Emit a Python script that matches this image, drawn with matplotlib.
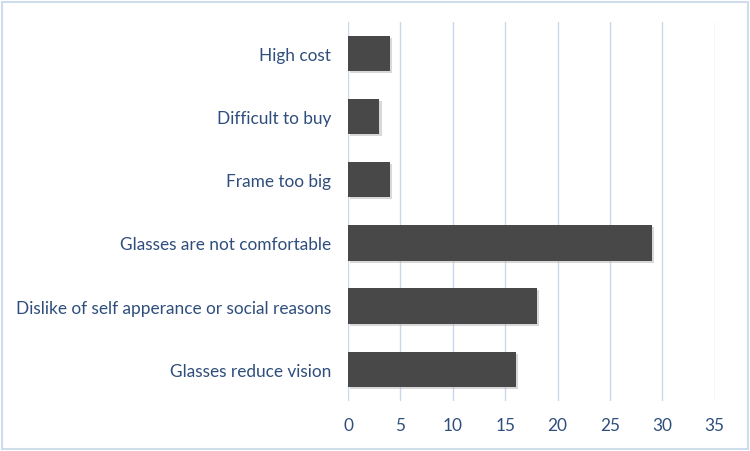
import matplotlib.pyplot as plt
import matplotlib.patheffects as pe
from matplotlib.patches import Rectangle

reasons = ["Glasses reduce vision", "Dislike of self apperance or social reasons",
           "Glasses are not comfortable", "Frame too big", "Difficult to buy", "High cost"]
counts = [16, 18, 29, 4, 3, 4]
xticks = [0, 5, 10, 15, 20, 25, 30, 35]

text_col = "#2f4e7c"
grid_col = "#c8d8ec"

plt.rcParams['font.family'] = ['Lato', 'DejaVu Sans']

fig = plt.figure(figsize=(7.5, 4.52), dpi=100)
ax = fig.add_axes([0.464, 0.111, 0.489, 0.839])

bars = ax.barh(range(len(reasons)), counts, height=0.56, color="#484848", zorder=3)
for b in bars:
    b.set_path_effects([pe.SimplePatchShadow(offset=(1.5, -1.5), shadow_rgbFace="#aaaaaa", alpha=0.45), pe.Normal()])

ax.set_yticks(range(len(reasons)))
ax.set_yticklabels(reasons, fontsize=12.4, color=text_col)
ax.set_xticks(xticks)
ax.set_xticklabels([str(t) for t in xticks], fontsize=12.4, color=text_col)
ax.set_xlim(0, 35)
ax.set_ylim(-0.5, len(reasons) - 0.5)
ax.tick_params(length=0)
ax.tick_params(axis='y', pad=12)
ax.tick_params(axis='x', pad=12)

ax.grid(axis='x', color=grid_col, linewidth=1, zorder=0)
for s in ax.spines.values():
    s.set_visible(False)

# outer border
fig.patches.append(Rectangle((0.003, 0.004), 0.994, 0.99, transform=fig.transFigure,
                             fill=False, edgecolor="#cfdcec", linewidth=1.5))

plt.savefig("out.png", dpi=100)
